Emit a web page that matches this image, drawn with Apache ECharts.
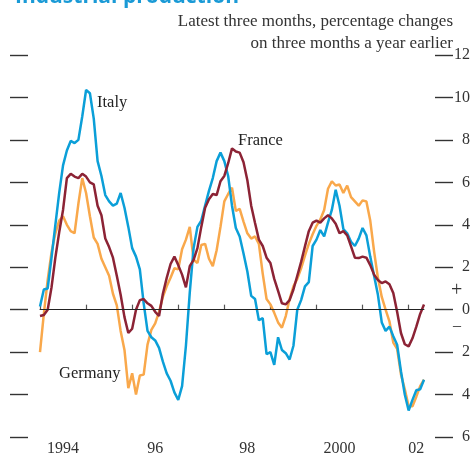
<!DOCTYPE html>
<html>
<head>
<meta charset="utf-8">
<script src="https://cdn.jsdelivr.net/npm/echarts@6/dist/echarts.min.js"></script>
<style>
  html, body { margin: 0; padding: 0; background: #fff; }
  #main { width: 474px; height: 457px; }
</style>
</head>
<body>
<div id="main"></div>
<script>
// monthly, Jan 1994 .. May 2002
var months = [];
for (var y = 1994; y <= 2002; y++) {
    for (var m = 1; m <= 12; m++) {
        if (y === 2002 && m > 5) break;
        months.push(y + '-' + (m < 10 ? '0' + m : m));
    }
}

var italy = [
    0.15, 0.95, 1.0, 2.45, 4.0, 5.5, 6.8, 7.5, 7.95, 7.85, 8.0, 9.1,
    10.35, 10.2, 9.0, 7.0, 6.3, 5.4, 5.1, 4.9, 5.0, 5.5, 4.8, 3.9,
    2.9, 2.5, 1.9, 0.3, -1.0, -1.3, -1.45, -1.8, -2.45, -3.0, -3.35, -3.9,
    -4.25, -3.6, -1.7, 0.8, 2.9, 3.9, 4.2, 4.9, 5.6, 6.2, 7.0, 7.4,
    7.0, 6.3, 4.9, 3.85, 3.45, 2.65, 1.8, 0.65, 0.5, -0.5, -0.4, -2.1,
    -2.0, -2.6, -1.3, -1.9, -2.05, -2.35, -1.7, 0.0, 0.45, 1.1, 1.3, 3.0,
    3.3, 3.75, 3.45, 4.1, 4.7, 5.65, 4.9, 3.8, 3.6, 3.2, 3.0, 3.35,
    3.85, 3.5, 2.5, 1.6, 0.7, -0.6, -1.0, -0.8, -1.25, -1.65, -2.9, -4.0,
    -4.75, -4.25, -3.8, -3.75, -3.3
];

var germany = [
    -2.0, -0.2, 1.4, 2.7, 3.6, 4.2, 4.4, 4.0, 3.7, 3.6, 5.0, 6.2,
    5.5, 4.4, 3.4, 3.1, 2.4, 2.0, 1.6, 0.75, 0.2, -1.0, -1.9, -3.7,
    -3.0, -4.0, -3.1, -3.06, -1.65, -0.95, -0.65, -0.1, 0.6, 1.1, 1.5, 1.95,
    1.9, 2.85, 3.3, 3.9, 2.35, 2.2, 3.05, 3.1, 2.4, 2.05, 2.8, 3.9,
    5.1, 5.45, 5.75, 4.65, 4.75, 4.15, 3.6, 3.35, 3.45, 3.1, 1.7, 0.5,
    0.25, -0.15, -0.6, -0.85, -0.3, 0.5, 1.1, 1.45, 1.95, 2.55, 3.1, 3.55,
    3.95, 4.25, 4.7, 5.7, 6.05, 5.85, 5.9, 5.5, 5.85, 5.3, 5.1, 4.9,
    5.15, 5.1, 4.2, 2.75, 1.5, 0.6, 0.0, -0.55, -1.55, -1.85, -3.05, -3.75,
    -4.55, -4.55, -4.1, -3.6, -3.3
];

var france = [
    -0.3, -0.25, 0.0, 1.05, 2.45, 3.65, 4.7, 6.2, 6.4, 6.27, 6.2, 6.4,
    6.27, 6.0, 5.9, 4.9, 4.45, 3.35, 2.95, 2.45, 1.6, 0.7, -0.35, -1.1,
    -0.9, 0.0, 0.45, 0.5, 0.3, 0.18, -0.1, -0.3, 0.75, 1.5, 2.15, 2.5,
    2.1, 1.65, 1.05, 2.05, 2.35, 2.9, 3.9, 4.8, 5.2, 5.45, 5.4, 6.05,
    6.3, 6.9, 7.6, 7.45, 7.4, 6.95, 6.1, 4.9, 4.08, 3.3, 3.0, 2.45,
    2.2, 1.45, 0.88, 0.3, 0.25, 0.45, 0.95, 1.6, 2.25, 2.98, 3.7, 4.1,
    4.2, 4.1, 4.3, 4.45, 4.3, 4.05, 3.6, 3.7, 3.5, 2.98, 2.45, 2.43,
    2.5, 2.45, 2.1, 1.65, 1.4, 1.25, 1.33, 1.2, 0.78, -0.1, -1.1, -1.63,
    -1.73, -1.35, -0.8, -0.2, 0.24
];

// year labels sit mid-year; the last one on the short 2002 stretch
var yearLabels = { 6: '1994', 30: '96', 54: '98', 78: '2000', 98: '02' };

var serif = 'Liberation Serif';

var chartDom = document.getElementById('main');
var myChart = echarts.init(chartDom);
var option;

option = {
    animation: false,
    title: {
        text: 'Industrial production',
        left: 10,
        top: -18,
        textStyle: {
            fontFamily: 'Open Sans',
            fontWeight: 'bold',
            fontSize: 21,
            color: '#1a9ad6'
        }
    },
    grid: {
        left: 40,
        right: 50,
        top: 55,
        bottom: 19
    },
    xAxis: {
        type: 'category',
        boundaryGap: false,
        data: months,
        axisLine: { lineStyle: { color: '#555', width: 1.2 } },
        axisTick: {
            inside: true,
            length: 5,
            interval: function (i) { return i % 12 === 0; },
            lineStyle: { color: '#555', width: 1.2 }
        },
        axisLabel: {
            interval: function (i) { return yearLabels[i] !== undefined; },
            formatter: function (v, i) { return yearLabels[i] || ''; },
            margin: 4,
            fontFamily: serif,
            fontSize: 16,
            color: '#333'
        },
        splitLine: { show: false }
    },
    yAxis: [
        {
            type: 'value',
            position: 'left',
            offset: 12,
            min: -6,
            max: 12,
            interval: 2,
            axisLine: { show: false },
            axisTick: { show: true, length: 18, lineStyle: { color: '#333', width: 1.4 } },
            axisLabel: { show: false },
            splitLine: { show: false }
        },
        {
            type: 'value',
            position: 'right',
            offset: 11,
            min: -6,
            max: 12,
            interval: 2,
            axisLine: { show: false },
            axisTick: { show: true, length: 18, lineStyle: { color: '#333', width: 1.4 } },
            axisLabel: {
                align: 'right',
                margin: 35,
                fontFamily: serif,
                fontSize: 16,
                color: '#333',
                formatter: function (v) { return String(Math.abs(v)); }
            },
            splitLine: { show: false }
        }
    ],
    graphic: [
        { type: 'text', right: 21, top: 13, style: { text: 'Latest three months, percentage changes', font: '17px "Liberation Serif"', fill: '#333' } },
        { type: 'text', right: 21, top: 35, style: { text: 'on three months a year earlier', font: '17px "Liberation Serif"', fill: '#333' } },
        { type: 'text', left: 97, top: 94, style: { text: 'Italy', font: '16.5px "Liberation Serif"', fill: '#222' } },
        { type: 'text', left: 238, top: 132, style: { text: 'France', font: '16.5px "Liberation Serif"', fill: '#222' } },
        { type: 'text', left: 59, top: 365, style: { text: 'Germany', font: '16.5px "Liberation Serif"', fill: '#222' } },
        { type: 'text', left: 451, top: 281, style: { text: '+', font: '20px "Liberation Serif"', fill: '#333' } },
        { type: 'text', left: 453, top: 318, style: { text: '\u2013', font: '16px "Liberation Serif"', fill: '#333' } }
    ],
    series: [
        {
            name: 'Germany',
            type: 'line',
            yAxisIndex: 1,
            data: germany,
            showSymbol: false,
            lineStyle: { color: '#f9a84b', width: 2.5 },
            markLine: {
                silent: true,
                symbol: 'none',
                label: { show: false },
                lineStyle: { color: '#222', width: 1, type: 'solid' },
                data: [{ yAxis: 0 }]
            }
        },
        {
            name: 'Italy',
            type: 'line',
            yAxisIndex: 1,
            data: italy,
            showSymbol: false,
            lineStyle: { color: '#0b9fd8', width: 2.5 }
        },
        {
            name: 'France',
            type: 'line',
            yAxisIndex: 1,
            data: france,
            showSymbol: false,
            lineStyle: { color: '#8c2335', width: 2.5 }
        }
    ]
};

option && myChart.setOption(option);
</script>
</body>
</html>
